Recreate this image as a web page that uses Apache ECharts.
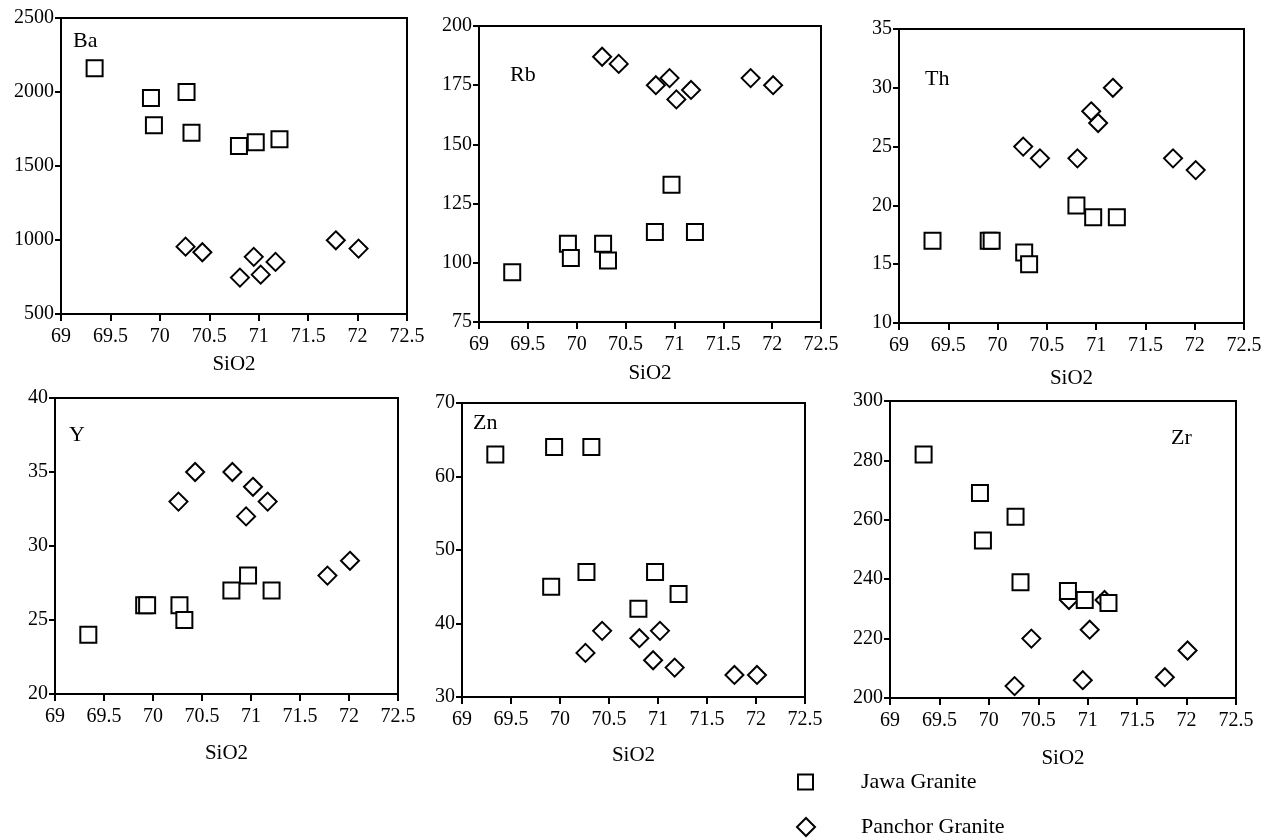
<!DOCTYPE html>
<html>
<head>
<meta charset="utf-8">
<script src="https://cdn.jsdelivr.net/npm/echarts@6/dist/echarts.min.js"></script>
<style>
html,body{margin:0;padding:0;background:#fff;}
#c{width:1268px;height:840px;}
</style>
</head>
<body>
<div id="c"></div>
<script>
// ---- DATA ----
const elements = ['Ba', 'Rb', 'Th', 'Y', 'Zn', 'Zr'];
const seriesNames = ['Jawa Granite', 'Panchor Granite'];
const xTicks = [69, 69.5, 70, 70.5, 71, 71.5, 72, 72.5];

const jawaSiO2    = [69.34, 69.91, 69.94, 70.27, 70.32, 70.80, 70.97, 71.21];
const panchorSiO2 = [70.26, 70.43, 70.81, 70.95, 71.02, 71.17, 71.78, 72.01];

const jawaBa    = [2160, 1960, 1775, 2000, 1725, 1635, 1660, 1680];
const panchorBa = [955, 917, 746, 886, 766, 852, 998, 942];

const jawaRb    = [96, 108, 102, 108, 101, 113, 133, 113];
const panchorRb = [187, 184, 175, 178, 169, 173, 178, 175];

const jawaTh    = [17, 17, 17, 16, 15, 20, 19, 19];
const panchorTh = [25, 24, 24, 28, 27, 30, 24, 23];

const jawaY     = [24, 26, 26, 26, 25, 27, 28, 27];
const panchorY  = [33, 35, 35, 32, 34, 33, 28, 29];

const jawaZn    = [63, 45, 64, 47, 64, 42, 47, 44];
const panchorZn = [36, 39, 38, 35, 39, 34, 33, 33];

const jawaZr    = [282, 269, 253, 261, 239, 236, 233, 232];
const panchorZr = [204, 220, 233, 206, 223, 233, 207, 216];

const yMin      = [500, 75, 10, 20, 30, 200];
const yMax      = [2500, 200, 35, 40, 70, 300];
const yInterval = [500, 25, 5, 5, 10, 20];

const jawaVals    = [jawaBa, jawaRb, jawaTh, jawaY, jawaZn, jawaZr];
const panchorVals = [panchorBa, panchorRb, panchorTh, panchorY, panchorZn, panchorZr];

// ---- LAYOUT ----
const FONT = 'Liberation Serif';
const grids = [
  {left: 61,  top: 18,  width: 346, height: 296},
  {left: 479, top: 26,  width: 342, height: 296},
  {left: 899, top: 29,  width: 345, height: 294},
  {left: 55,  top: 398, width: 343, height: 296},
  {left: 462, top: 403, width: 343, height: 294},
  {left: 890, top: 401, width: 346, height: 297}
];
const nameGaps = [40, 41, 45, 49, 48, 50];
const labelPos = [
  {left: 68,  top: 25},
  {left: 505, top: 59},
  {left: 920, top: 63},
  {left: 64,  top: 419},
  {left: 468, top: 407},
  {left: 1166, top: 422}
];
const legendLayout = [
  {left: 797, top: 771, size: 15, pad: 43},
  {left: 796, top: 816, size: 18, pad: 41}
];

const zip = (xs, ys) => xs.map((x, i) => [x, ys[i]]);
const markerStyle = {color: '#fff', borderColor: '#000', borderWidth: 2};

const option = {
  animation: false,
  backgroundColor: '#fff',
  textStyle: {fontFamily: FONT, color: '#000'},
  title: elements.map((e, i) => ({
    text: e, left: labelPos[i].left, top: labelPos[i].top,
    textStyle: {fontFamily: FONT, fontSize: 22, fontWeight: 'normal', color: '#000'}
  })),
  grid: grids.map(g => Object.assign({show: true, borderColor: '#000', borderWidth: 2, backgroundColor: 'transparent'}, g)),
  xAxis: grids.map((g, i) => ({
    gridIndex: i, type: 'value', min: xTicks[0], max: xTicks[xTicks.length - 1], interval: 0.5,
    name: 'SiO2', nameLocation: 'middle', nameGap: nameGaps[i],
    nameTextStyle: {fontFamily: FONT, fontSize: 21, color: '#000'},
    axisLine: {lineStyle: {color: '#000', width: 2}},
    axisTick: {show: true, length: 7, lineStyle: {color: '#000', width: 2}},
    axisLabel: {fontFamily: FONT, fontSize: 20, color: '#000', margin: 13, formatter: v => String(v)},
    splitLine: {show: false}
  })),
  yAxis: grids.map((g, i) => ({
    gridIndex: i, type: 'value', min: yMin[i], max: yMax[i], interval: yInterval[i],
    axisLine: {show: true, lineStyle: {color: '#000', width: 2}},
    axisTick: {show: true, length: 6, lineStyle: {color: '#000', width: 2}},
    axisLabel: {fontFamily: FONT, fontSize: 20, color: '#000', margin: 7, formatter: v => String(v)},
    splitLine: {show: false}
  })),
  legend: seriesNames.map((n, k) => ({
    orient: 'vertical', left: legendLayout[k].left, top: legendLayout[k].top, padding: 0,
    itemWidth: legendLayout[k].size, itemHeight: legendLayout[k].size,
    textStyle: {fontFamily: FONT, fontSize: 22, color: '#000', padding: [0, 0, 0, legendLayout[k].pad], lineHeight: 22},
    data: [{name: n, icon: k === 0 ? 'rect' : 'diamond', itemStyle: markerStyle}]
  })),
  series: []
};

elements.forEach((e, i) => {
  option.series.push({
    name: seriesNames[1], type: 'scatter', xAxisIndex: i, yAxisIndex: i,
    symbol: 'diamond', symbolSize: 18, z: 2,
    itemStyle: {color: 'rgba(255,255,255,0)', borderColor: '#000', borderWidth: 2, opacity: 1},
    data: zip(panchorSiO2, panchorVals[i])
  });
  option.series.push({
    name: seriesNames[0], type: 'scatter', xAxisIndex: i, yAxisIndex: i,
    symbol: 'rect', symbolSize: 16, z: 3,
    itemStyle: {color: '#fff', borderColor: '#000', borderWidth: 2, opacity: 1},
    data: zip(jawaSiO2, jawaVals[i])
  });
});

const chart = echarts.init(document.getElementById('c'), null, {renderer: 'canvas'});
chart.setOption(option);
</script>
</body>
</html>
